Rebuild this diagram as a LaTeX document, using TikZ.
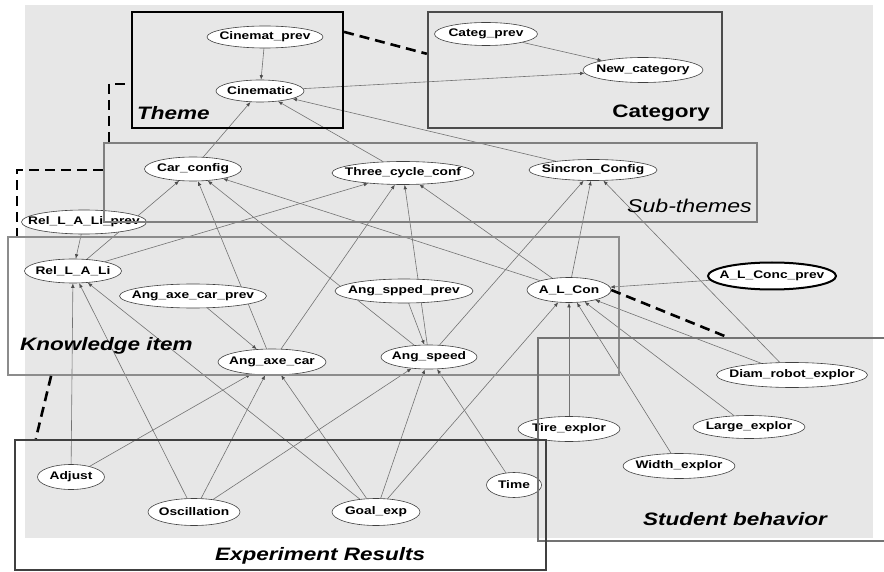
\documentclass[tikz,border=0pt]{standalone}
\usepackage{fontspec}
\setmainfont{Liberation Sans}[FakeStretch=1.25]
\usetikzlibrary{arrows.meta,calc,shapes.geometric}

\pgfdeclarelayer{back}
\pgfdeclarelayer{edges}
\pgfdeclarelayer{front}
\pgfsetlayers{back,edges,main,front}

\definecolor{panel}{gray}{0.905}
\definecolor{linkgray}{gray}{0.45}

\tikzset{
  var/.style={ellipse, draw=black!75, line width=0.6pt, fill=white,
    inner xsep=-30pt, inner ysep=0pt, minimum height=24pt,
    font=\bfseries\fontsize{11}{12}\selectfont},
  arc/.style={draw=linkgray, line width=0.6pt,
    -{Latex[length=4.5pt,width=3.6pt,color=black!70]}},
  group/.style={rectangle, draw, inner sep=0pt},
  grouplabel/.style={inner sep=0pt, font=\bfseries\itshape\fontsize{18}{20}\selectfont},
  bridge/.style={line width=2.6pt, dash pattern=on 10pt off 6pt}
}

\begin{document}
\begin{tikzpicture}[x=1pt,y=-1pt]
\useasboundingbox (0,0) rectangle (884,572);
\begin{pgfonlayer}{back}
\fill[panel] (25,5) rectangle (873,538);
\end{pgfonlayer}

% theme and category
\node[var, minimum width=116pt, minimum height=22pt] (cinprev) at (265,37) {Cinemat\_prev};
\node[var, minimum width=88pt, minimum height=22pt] (cin) at (260,91) {Cinematic};
\node[var, minimum width=103pt, minimum height=23pt] (catprev) at (486,34) {Categ\_prev};
\node[var, minimum width=120pt, minimum height=25pt] (newcat) at (643,70) {New\_category};

% sub-themes
\node[var, minimum width=97pt] (carconf) at (193,169) {Car\_config};
\node[var, minimum width=142pt, minimum height=23pt] (threecyc) at (403,173) {Three\_cycle\_conf};
\node[var, minimum width=128pt, minimum height=21pt] (sincron) at (593,170) {Sincron\_Config};

% knowledge items
\node[var, minimum width=125pt, minimum height=24pt] (rellaprev) at (84,222) {Rel\_L\_A\_Li\_prev};
\node[var, minimum width=97pt] (rella) at (73,271) {Rel\_L\_A\_Li};
\node[var, minimum width=147pt, minimum height=24pt] (axeprev) at (193,296) {Ang\_axe\_car\_prev};
\node[var, minimum width=138pt] (spedprev) at (404,291) {Ang\_spped\_prev};
\node[var, minimum width=84pt, minimum height=25pt] (alcon) at (569,290) {A\_L\_Con};
\node[var, draw=black, line width=2pt, minimum width=128pt, minimum height=27pt] (alconcprev) at (772,276) {A\_L\_Conc\_prev};
\node[var, minimum width=108pt, minimum height=26pt] (axecar) at (272,362) {Ang\_axe\_car};
\node[var, minimum width=96pt, minimum height=24pt] (speed) at (429,357) {Ang\_speed};

% student behavior
\node[var, minimum width=151pt, minimum height=25pt] (diam) at (792,375) {Diam\_robot\_explor};
\node[var, minimum width=102pt, minimum height=25pt] (tire) at (569,429) {Tire\_explor};
\node[var, minimum width=112pt, minimum height=23pt] (large) at (749,427) {Large\_explor};
\node[var, minimum width=112pt, minimum height=25pt] (widthexp) at (679,466) {Width\_explor};

% experiment results
\node[var, minimum width=67pt, minimum height=25pt] (adjust) at (71,477) {Adjust};
\node[var, minimum width=92pt, minimum height=27pt] (oscil) at (194,512) {Oscillation};
\node[var, minimum width=88pt, minimum height=27pt] (goal) at (376,512) {Goal\_exp};
\node[var, minimum width=55pt, minimum height=25pt] (timeexp) at (514,485) {Time};

\begin{pgfonlayer}{edges}
\draw[arc] (cinprev) -- (cin);
\draw[arc] (catprev) -- (newcat);
\draw[arc] (cin) -- (newcat);
\draw[arc] (carconf) -- (cin);
\draw[arc] (threecyc) -- (cin);
\draw[arc] (sincron) -- (cin);

\draw[arc] (rella) -- (carconf);
\draw[arc] (axecar) -- (carconf);
\draw[arc] (speed) -- (carconf);
\draw[arc] (alcon) -- (carconf);
\draw[arc] (rella) -- (threecyc);
\draw[arc] (axecar) -- (threecyc);
\draw[arc] (speed) -- (threecyc);
\draw[arc] (alcon) -- (threecyc);
\draw[arc] (speed) -- (sincron);
\draw[arc] (alcon) -- (sincron);
\draw[arc] (diam) -- (sincron);

\draw[arc] (rellaprev) -- (rella);
\draw[arc] (axeprev) -- (axecar);
\draw[arc] (spedprev) -- (speed);
\draw[arc] (alconcprev) -- (alcon);

\draw[arc] (adjust) -- (rella);
\draw[arc] (adjust) -- (axecar);
\draw[arc] (oscil) -- (rella);
\draw[arc] (oscil) -- (axecar);
\draw[arc] (oscil) -- (speed);
\draw[arc] (goal) -- (rella);
\draw[arc] (goal) -- (axecar);
\draw[arc] (goal) -- (speed);
\draw[arc] (goal) -- (alcon);
\draw[arc] (timeexp) -- (speed);
\draw[arc] (tire) -- (alcon);
\draw[arc] (widthexp) -- (alcon);
\draw[arc] (large) -- (alcon);
\draw[arc] (diam) -- (alcon);
\end{pgfonlayer}

\begin{pgfonlayer}{front}
% groups
\node[group, draw=black, line width=2.2pt, minimum width=211pt, minimum height=116pt] (theme) at (237.5,70) {};
\node[group, draw=black!70, line width=2.4pt, minimum width=294pt, minimum height=116pt] (category) at (575,70) {};
\node[group, draw=black!50, line width=2.2pt, minimum width=653pt, minimum height=79pt] (subthemes) at (430.5,182.5) {};
\node[group, draw=black!45, line width=1.8pt, minimum width=611pt, minimum height=138pt] (knowledge) at (313.5,306) {};
\node[group, draw=black!55, line width=2pt, minimum width=352pt, minimum height=203pt] (student) at (714,439.5) {};
\node[group, draw=black!75, line width=2.4pt, minimum width=531pt, minimum height=130pt] (experiment) at (280.5,505) {};

\node[grouplabel, anchor=base west] (themelbl) at (137,120) {Theme};
\node[grouplabel, anchor=base east, font=\bfseries\fontsize{18}{20}\selectfont] (categorylbl) at (710,118) {Category};
\node[grouplabel, anchor=base east, font=\itshape\fontsize{18.5}{20}\selectfont] (subthemeslbl) at (752,213) {Sub-themes};
\node[grouplabel, anchor=base west] (knowledgelbl) at (20,350) {Knowledge item};
\node[grouplabel, anchor=base west] (studentlbl) at (643,525) {Student behavior};
\node[grouplabel, anchor=base west] (experimentlbl) at (215,560) {Experiment Results};

% dashed links between groups
\draw[bridge] ($(theme.north east)+(0,21)$) -- ($(category.north west)+(0,43)$);
\draw[bridge] ($(theme.north west)+(-6,73)$) -| ($(subthemes.north west)+(6,0)$);
\draw[bridge] ($(subthemes.north west)+(0,28)$) -| ($(knowledge.north west)+(10,0)$);
\draw[bridge] ($(knowledge.south west)+(44,0)$) -- ($(experiment.north west)+(22,0)$);
\draw[bridge] (alcon.east) -- ($(student.north west)+(190,0)$);
\end{pgfonlayer}
\end{tikzpicture}
\end{document}
